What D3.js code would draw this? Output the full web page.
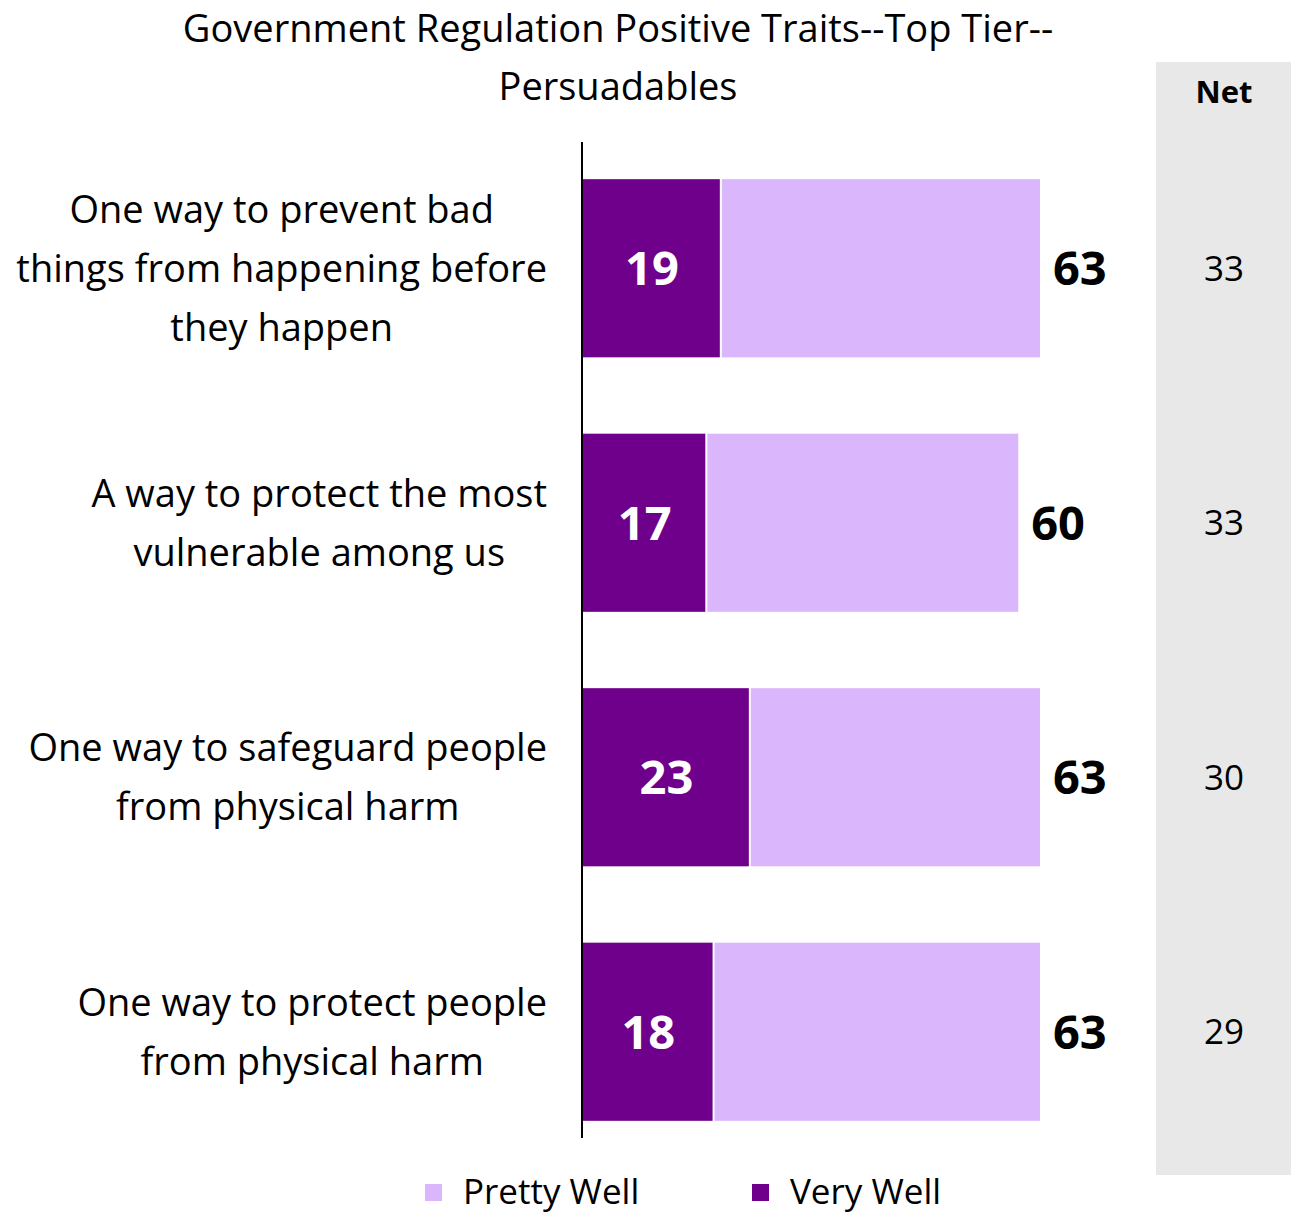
<!DOCTYPE html>
<html>
<head>
<meta charset="utf-8">
<script src="https://cdn.jsdelivr.net/npm/d3@7"></script>
<style>
body { margin: 0; background: #fff; }
text { font-family: "Open Sans", sans-serif; }
</style>
</head>
<body>
<script>
var w = 1291;
var h = 1216;

// chart data
var categories = [
  ["One way to prevent bad", "things from happening before", "they happen"],
  ["A way to protect the most", "vulnerable among us"],
  ["One way to safeguard people", "from physical harm"],
  ["One way to protect people", "from physical harm"]
];
var veryWell = [19, 17, 23, 18];
var totals = [63, 60, 63, 63];
var net = [33, 33, 30, 29];
var seriesNames = ["Pretty Well", "Very Well"];
var titleLines = ["Government Regulation Positive Traits--Top Tier--", "Persuadables"];

var darkColor = "#6f008c";
var lightColor = "#dab6fc";

var svg = d3.select("body").append("svg")
  .attr("width", w)
  .attr("height", h);

var x = d3.scaleLinear().domain([0, 63]).range([583, 1040]);
var y = d3.scaleBand().domain(d3.range(categories.length))
  .range([141, 1159]).paddingInner(0.3).paddingOuter(0.15);

// grey net column
svg.append("rect")
  .attr("x", 1156).attr("y", 62)
  .attr("width", w - 1156).attr("height", 1175 - 62)
  .attr("fill", "#e8e8e8");

svg.append("text")
  .attr("x", 1224).attr("y", 103)
  .attr("text-anchor", "middle")
  .attr("font-size", 31).attr("font-weight", "bold")
  .text("Net");

// title
svg.selectAll("text.title")
  .data(titleLines)
  .enter().append("text")
  .attr("class", "title")
  .attr("x", 618)
  .attr("y", function(d, i) { return 42 + i * 58; })
  .attr("text-anchor", "middle")
  .attr("font-size", 38)
  .text(function(d) { return d; });

var rows = svg.selectAll("g.row")
  .data(d3.range(categories.length))
  .enter().append("g")
  .attr("class", "row");

// light segment (total)
rows.append("rect")
  .attr("x", function(i) { return x(veryWell[i]) + 1; })
  .attr("y", function(i) { return y(i); })
  .attr("width", function(i) { return x(totals[i]) - x(veryWell[i]) - 1; })
  .attr("height", y.bandwidth())
  .attr("fill", lightColor);

// dark segment
rows.append("rect")
  .attr("x", x(0))
  .attr("y", function(i) { return y(i); })
  .attr("width", function(i) { return x(veryWell[i]) - x(0) - 1; })
  .attr("height", y.bandwidth())
  .attr("fill", darkColor);

rows.append("text")
  .attr("x", function(i) { return (x(0) + x(veryWell[i])) / 2; })
  .attr("y", function(i) { return y(i) + y.bandwidth() / 2; })
  .attr("dy", "0.36em")
  .attr("text-anchor", "middle")
  .attr("font-size", 47).attr("font-weight", "bold")
  .attr("fill", "#fff")
  .text(function(i) { return veryWell[i]; });

rows.append("text")
  .attr("x", function(i) { return x(totals[i]) + 13; })
  .attr("y", function(i) { return y(i) + y.bandwidth() / 2; })
  .attr("dy", "0.36em")
  .attr("font-size", 47).attr("font-weight", "bold")
  .attr("fill", "#000")
  .text(function(i) { return totals[i]; });

rows.append("text")
  .attr("x", 1224)
  .attr("y", function(i) { return y(i) + y.bandwidth() / 2; })
  .attr("dy", "0.36em")
  .attr("text-anchor", "middle")
  .attr("font-size", 35)
  .text(function(i) { return net[i]; });

// category labels: lines centred on the widest line, widest right-aligned at 547
var lineH = 59;
rows.each(function(i) {
  var g = d3.select(this);
  var lines = categories[i];
  var t = g.append("text")
    .attr("font-size", 38)
    .attr("text-anchor", "middle");
  var spans = t.selectAll("tspan").data(lines).enter().append("tspan")
    .attr("x", 0)
    .attr("y", function(d, j) {
      var cy = y(i) + y.bandwidth() / 2;
      return cy + (j - (lines.length - 1) / 2) * lineH;
    })
    .attr("dy", "0.36em")
    .text(function(d) { return d; });
  var maxW = 0;
  spans.each(function() { maxW = Math.max(maxW, this.getComputedTextLength()); });
  spans.attr("x", 547 - maxW / 2);
});

// axis line
svg.append("line")
  .attr("x1", 582).attr("x2", 582)
  .attr("y1", 142).attr("y2", 1138)
  .attr("stroke", "#000").attr("stroke-width", 2);

// legend
var legend = svg.selectAll("g.legend")
  .data(seriesNames)
  .enter().append("g")
  .attr("class", "legend")
  .attr("transform", function(d, i) { return "translate(" + (425 + i * 327) + ",0)"; });

legend.append("rect")
  .attr("x", 0).attr("y", 1184)
  .attr("width", 17).attr("height", 17)
  .attr("fill", function(d, i) { return i == 0 ? lightColor : darkColor; });

legend.append("text")
  .attr("x", 38).attr("y", 1204)
  .attr("font-size", 35)
  .text(function(d) { return d; });
</script>
</body>
</html>
